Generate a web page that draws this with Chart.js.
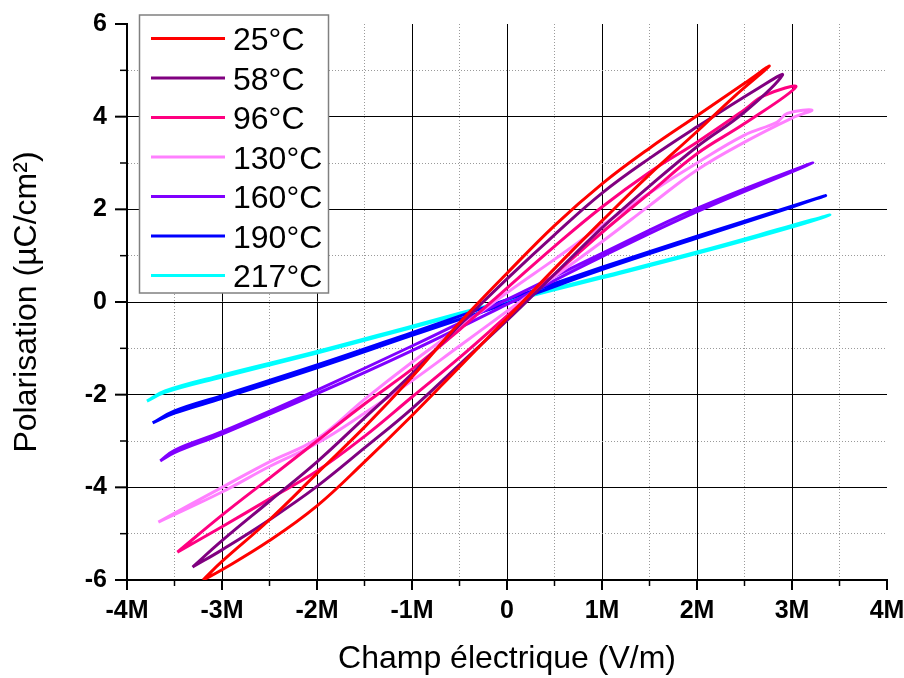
<!DOCTYPE html>
<html>
<head>
<meta charset="utf-8">
<script src="https://cdn.jsdelivr.net/npm/chart.js@4"></script>
<style>
  html, body { margin: 0; padding: 0; background: #fff; }
  #c { display: block; }
</style>
</head>
<body>
<canvas id="c" width="904" height="678"></canvas>
<script>
// temperatures and colours of each loop
const temps = ['25°C', '58°C', '96°C', '130°C', '160°C', '190°C', '217°C']
const colors = ['#FF0000', '#800080', '#FF0080', '#FF80FF', '#8000FF', '#0000FF', '#00FFFF']

// field in MV/m, polarisation in µC/cm² (lower branch then upper branch back)
const field25 = [-3.2, -3.0, -2.5, -2.0, -1.5, -1.0, -0.5, 0, 0.5, 1.0, 1.5, 2.0, 2.4, 2.76,
  2.5, 2.0, 1.5, 1.0, 0.5, 0, -0.5, -1.0, -1.5, -2.0, -2.5, -3.0, -3.2]
const pol25 = [-6.0, -5.78, -5.15, -4.4, -3.45, -2.45, -1.4, -0.35, 0.72, 1.75, 2.75, 3.68, 4.45, 5.09,
  4.72, 4.02, 3.32, 2.55, 1.65, 0.62, -0.45, -1.62, -2.7, -3.7, -4.7, -5.6, -6.0]

const field58 = [-3.31, -3.0, -2.5, -2.0, -1.5, -1.0, -0.5, 0, 0.5, 1.0, 1.5, 2.0, 2.5, 2.9,
  2.65, 2.0, 1.5, 1.0, 0.5, 0, -0.5, -1.0, -1.5, -2.0, -2.5, -3.0, -3.31]
const pol58 = [-5.72, -5.35, -4.7, -3.98, -3.15, -2.3, -1.35, -0.4, 0.6, 1.6, 2.5, 3.35, 4.1, 4.9,
  4.62, 3.78, 3.1, 2.35, 1.45, 0.5, -0.5, -1.55, -2.5, -3.45, -4.3, -5.15, -5.72]

const field96 = [-3.47, -3.0, -2.5, -2.0, -1.5, -1.0, -0.5, 0, 0.5, 1.0, 1.5, 2.0, 2.5, 3.04,
  2.7, 2.5, 2.0, 1.5, 1.0, 0.5, 0, -0.5, -1.0, -1.5, -2.0, -2.5, -3.0, -3.47]
const pol96 = [-5.4, -4.85, -4.25, -3.65, -2.9, -2.05, -1.2, -0.3, 0.6, 1.5, 2.35, 3.2, 3.85, 4.64,
  4.45, 4.15, 3.45, 2.8, 2.05, 1.2, 0.3, -0.6, -1.45, -2.2, -3.0, -3.8, -4.6, -5.4]

const field130 = [-3.67, -3.0, -2.5, -2.0, -1.5, -1.0, -0.5, 0, 0.5, 1.0, 1.5, 2.0, 2.5, 3.0, 3.21,
  2.95, 2.84, 2.5, 2.0, 1.5, 1.0, 0.5, 0, -0.5, -1.0, -1.5, -2.0, -2.5, -3.0, -3.67]
const pol130 = [-4.75, -4.1, -3.55, -3.05, -2.4, -1.7, -0.95, -0.2, 0.55, 1.3, 2.08, 2.85, 3.45, 3.97, 4.14,
  4.07, 3.88, 3.6, 3.0, 2.35, 1.65, 0.92, 0.2, -0.55, -1.3, -2.1, -2.95, -3.45, -4.0, -4.75]

const field160 = [-3.65, -3.5, -3.0, -2.0, -1.0, 0, 1.0, 2.0, 3.22,
  2.0, 1.0, 0, -1.0, -2.0, -3.0, -3.5, -3.65]
const pol160 = [-3.43, -3.25, -2.85, -1.98, -1.05, -0.05, 0.98, 1.95, 3.0,
  2.02, 1.05, 0.05, -0.95, -1.9, -2.8, -3.2, -3.43]

const field190 = [-3.73, -3.5, -3.0, -2.0, -1.0, 0, 1.0, 2.0, 3.0, 3.34,
  2.0, 1.0, 0, -1.0, -2.0, -3.0, -3.5, -3.73]
const pol190 = [-2.61, -2.4, -2.08, -1.42, -0.72, -0.03, 0.7, 1.38, 2.05, 2.29,
  1.42, 0.75, 0.05, -0.66, -1.36, -2.02, -2.35, -2.61]

const field217 = [-3.79, -3.6, -3.0, -2.0, -1.0, 0, 1.0, 2.0, 3.0, 3.4,
  3.0, 2.0, 1.0, 0, -1.0, -2.0, -3.0, -3.6, -3.79]
const pol217 = [-2.14, -1.95, -1.62, -1.1, -0.55, 0.0, 0.52, 1.05, 1.62, 1.88,
  1.65, 1.08, 0.55, 0.03, -0.52, -1.07, -1.58, -1.92, -2.14]

const fields = [field25, field58, field96, field130, field160, field190, field217]
const pols = [pol25, pol58, pol96, pol130, pol160, pol190, pol217]

const FONT = "'Liberation Sans', Arial, sans-serif"

const datasets = temps.map((t, i) => ({
  label: t,
  data: fields[i].map((f, k) => ({ x: f * 1e6, y: pols[i][k] })),
  borderColor: colors[i],
  backgroundColor: colors[i],
  borderWidth: 3,
  showLine: true,
  pointRadius: 0,
  tension: 0.4
}))

const isMajorX = v => Math.abs(v % 1e6) < 1
const isMajorY = v => Math.abs(v % 2) < 1e-9

const gridColor = (major, max) => ctx => {
  if (!ctx.tick) return '#000'
  if (ctx.tick.value === max) return 'rgba(0,0,0,0)'
  return major(ctx.tick.value) ? '#000' : '#9a9a9a'
}
const gridDash = major => ctx => (ctx.tick && !major(ctx.tick.value)) ? [1, 2] : []

// no extra room for labels sticking out, the layout padding is exact
const noOverhang = s => {
  s.paddingTop = 0
  s.paddingBottom = 0
  s.paddingLeft = 0
  s.paddingRight = 0
}

// tick marks drawn outward, long for major, short for minor
const tickMarks = {
  id: 'tickMarks',
  afterDraw(chart) {
    const { ctx, chartArea, scales } = chart
    ctx.save()
    ctx.strokeStyle = '#000'
    scales.x.ticks.forEach(t => {
      const px = scales.x.getPixelForValue(t.value)
      const major = isMajorX(t.value)
      ctx.lineWidth = major ? 2 : 1.5
      ctx.beginPath()
      ctx.moveTo(px, chartArea.bottom)
      ctx.lineTo(px, chartArea.bottom + (major ? 10 : 6))
      ctx.stroke()
    })
    scales.y.ticks.forEach(t => {
      const py = scales.y.getPixelForValue(t.value)
      const major = isMajorY(t.value)
      ctx.lineWidth = major ? 2 : 1.5
      ctx.beginPath()
      ctx.moveTo(chartArea.left, py)
      ctx.lineTo(chartArea.left - (major ? 12 : 7), py)
      ctx.stroke()
    })
    ctx.restore()
  }
}

// boxed legend in the upper left corner
const boxLegend = {
  id: 'boxLegend',
  afterDraw(chart) {
    const { ctx } = chart
    const x0 = 139.5, y0 = 15, w = 189, h = 278
    ctx.save()
    ctx.fillStyle = '#fff'
    ctx.fillRect(x0, y0, w, h)
    ctx.strokeStyle = '#808080'
    ctx.lineWidth = 1.5
    ctx.strokeRect(x0, y0, w, h)
    ctx.font = '32px ' + FONT
    ctx.textBaseline = 'alphabetic'
    chart.data.datasets.forEach((ds, i) => {
      const y = 38.5 + i * 39.5
      ctx.strokeStyle = ds.borderColor
      ctx.lineWidth = 3
      ctx.beginPath()
      ctx.moveTo(151, y)
      ctx.lineTo(225, y)
      ctx.stroke()
      ctx.fillStyle = '#000'
      ctx.fillText(ds.label, 233, y + 11.5)
    })
    ctx.restore()
  }
}

new Chart(document.getElementById('c'), {
  type: 'scatter',
  data: { datasets },
  plugins: [tickMarks, boxLegend],
  options: {
    responsive: false,
    animation: false,
    layout: { padding: { top: 24, right: 17, left: 0, bottom: 0 } },
    plugins: { legend: { display: false }, tooltip: { enabled: false } },
    scales: {
      x: {
        type: 'linear',
        min: -4e6,
        max: 4e6,
        afterFit: s => { s.height = 98; noOverhang(s) },
        afterBuildTicks: s => {
          const t = []
          for (let v = -8; v <= 8; v++) t.push({ value: v * 5e5 })
          s.ticks = t
        },
        ticks: {
          autoSkip: false,
          maxRotation: 0,
          padding: 16,
          color: '#000',
          font: { family: FONT, size: 25, weight: 'bold' },
          callback: v => isMajorX(v) ? (v === 0 ? '0' : (v / 1e6) + 'M') : ''
        },
        grid: { drawTicks: false, lineWidth: 1, color: gridColor(isMajorX, 4e6) },
        border: { display: true, color: '#000', width: 2, dash: gridDash(isMajorX) },
        title: {
          display: true,
          text: 'Champ électrique (V/m)',
          color: '#000',
          font: { family: FONT, size: 32 },
          padding: { top: 1, bottom: 0 }
        }
      },
      y: {
        type: 'linear',
        min: -6,
        max: 6,
        afterFit: s => { s.width = 127; noOverhang(s) },
        afterBuildTicks: s => {
          const t = []
          for (let v = -6; v <= 6; v++) t.push({ value: v })
          s.ticks = t
        },
        ticks: {
          autoSkip: false,
          padding: 20,
          color: '#000',
          font: { family: FONT, size: 25, weight: 'bold' },
          callback: v => isMajorY(v) ? String(v) : ''
        },
        grid: { drawTicks: false, lineWidth: 1, color: gridColor(isMajorY, 6) },
        border: { display: true, color: '#000', width: 2, dash: gridDash(isMajorY) },
        title: {
          display: true,
          text: 'Polarisation (µC/cm²)',
          color: '#000',
          font: { family: FONT, size: 32 },
          padding: { top: 8, bottom: 0 }
        }
      }
    }
  }
})
</script>
</body>
</html>
